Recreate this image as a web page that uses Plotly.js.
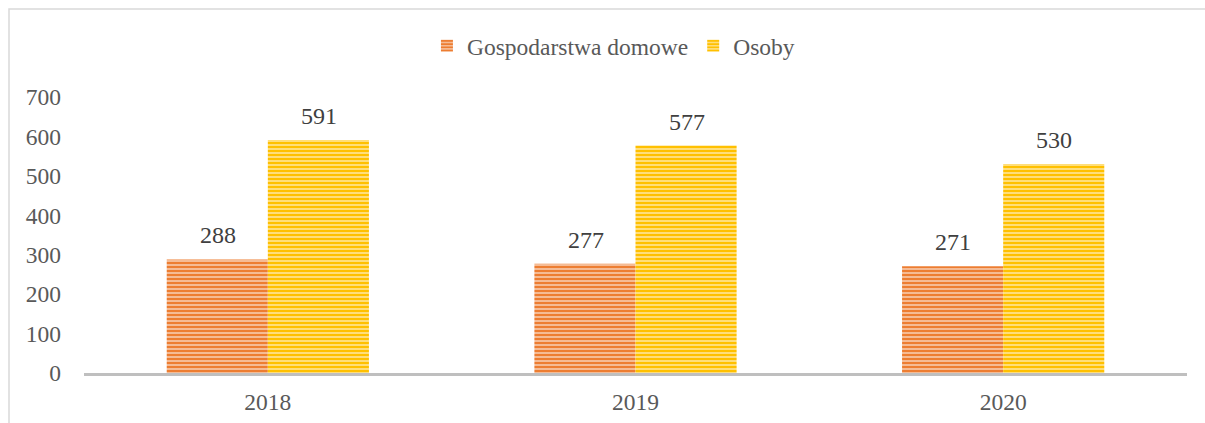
<!DOCTYPE html>
<html><head><meta charset="utf-8">
<script src="https://cdn.plot.ly/plotly-3.0.1.min.js"></script>
<style>html,body{margin:0;padding:0;background:#fff}#chart{width:1205px;height:423px}</style>
</head><body><div id="chart"></div>
<script>
const years = ['2018', '2019', '2020'];
const households = [288, 277, 271];
const persons = [591, 577, 530];
const seriesNames = ['Gospodarstwa domowe', 'Osoby'];
const yTicks = [0, 100, 200, 300, 400, 500, 600, 700];

const font = {family: "'Liberation Serif', 'Times New Roman', serif", size: 23.5, color: '#595959'};

const traces = [
  {type: 'bar', name: seriesNames[0], x: years, y: households,
   marker: {color: '#F8CBAD', line: {width: 0},
            pattern: {shape: '-', fgcolor: '#ED7D31', bgcolor: '#F8CBAD', size: 4, solidity: 0.6}}},
  {type: 'bar', name: seriesNames[1], x: years, y: persons,
   marker: {color: '#FFE699', line: {width: 0},
            pattern: {shape: '-', fgcolor: '#FFC000', bgcolor: '#FFE699', size: 4, solidity: 0.6}}}
];

const annotations = [];
[households, persons].forEach((vals, s) => {
  vals.forEach((v, i) => {
    annotations.push({x: i, y: v, text: String(v), showarrow: false,
      xanchor: 'center', yanchor: 'bottom', xshift: s === 0 ? -50 : 51, yshift: 9,
      font: {family: font.family, size: 24, color: '#404040'}});
  });
});

const layout = {
  width: 1205, height: 423,
  margin: {l: 84, r: 18, t: 97, b: 50},
  paper_bgcolor: '#fff', plot_bgcolor: '#fff',
  font: font,
  barmode: 'group', bargap: 0.45, bargroupgap: 0,
  showlegend: true,
  legend: {orientation: 'h', x: 0.48, xanchor: 'center', y: 1.185, yanchor: 'middle',
           font: font, itemwidth: 30, traceorder: 'normal'},
  xaxis: {type: 'category', range: [-0.5, years.length - 0.5], autorange: false,
          showgrid: false, showline: true, linecolor: '#BFBFBF', linewidth: 3,
          ticks: '', tickfont: font, zeroline: false, ticklabelstandoff: 6},
  yaxis: {range: [0, 700], autorange: false, tickvals: yTicks, ticktext: yTicks.map(String), showgrid: false,
          showline: false, zeroline: false, ticks: '', tickfont: font, ticklabelstandoff: 22},
  annotations: annotations,
  shapes: [{type: 'rect', xref: 'paper', yref: 'paper', x0: -0.068, x1: 1.2, y0: -0.4, y1: 1.3188,
            line: {color: '#D9D9D9', width: 1.5}, fillcolor: 'rgba(0,0,0,0)', layer: 'below'}]
};

Plotly.newPlot('chart', traces, layout, {displayModeBar: false, staticPlot: true});
</script></body></html>
